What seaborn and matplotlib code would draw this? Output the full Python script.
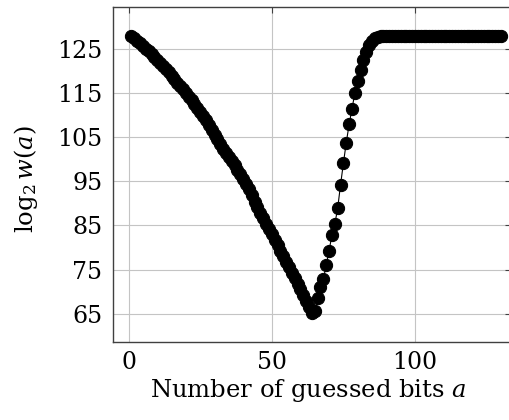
import matplotlib
matplotlib.use("Agg")
import matplotlib.pyplot as plt
import seaborn as sns
import pandas as pd

# guessed bits a = 1..130
bits = list(range(1, 131))

desc = [128.0, 127.4, 126.9, 126.3, 125.7, 125.1, 124.5, 123.8, 123.2, 122.5,
        121.8, 121.1, 120.4, 119.7, 118.9, 118.2, 117.4, 116.7, 115.9, 115.1,
        114.2, 113.4, 112.6, 111.7, 110.8, 109.9, 108.9, 107.8, 106.7, 105.6,
        104.5, 103.4, 102.4, 101.4, 100.5, 99.5, 98.6, 97.6, 96.6, 95.5,
        94.4, 93.3, 91.8, 90.4, 89.1, 87.8, 86.6, 85.4, 84.2, 83.0,
        81.8, 80.5, 79.3, 78.0, 76.8, 75.5, 74.2, 73.0, 71.7, 70.5,
        69.2, 67.9, 66.5, 65.2]
rise = [65.6, 68.5, 71.1, 72.8, 76.0, 79.3, 82.8, 85.3, 88.9, 94.2,
        99.1, 103.8, 107.9, 111.5, 115.0, 117.7, 120.2, 122.5, 124.4, 125.9,
        126.9, 127.5, 127.8]
flat = [128.0] * 43

work = desc + rise + flat

xticks = [0, 50, 100]
yticks = [65, 75, 85, 95, 105, 115, 125]

df = pd.DataFrame({"a": bits, "w": work})

sns.set_theme(style="whitegrid")
plt.rcParams["font.family"] = ["DejaVu Serif"]
plt.rcParams["mathtext.fontset"] = "dejavuserif"

fig = plt.figure(figsize=(5.09, 4.20), dpi=100)
W, H = 509, 420
left, right, top, bottom = 113.3, 511.5, 7.3, 341.7
ax = fig.add_axes([left / W, (H - bottom) / H, (right - left) / W, (bottom - top) / H])

sns.lineplot(data=df, x="a", y="w", ax=ax, color="black", linewidth=0.8,
             marker="o", markersize=8.8, markeredgecolor="black",
             markerfacecolor="black", clip_on=False)

ax.set_xlim(-5.35, 133.7)
ax.set_ylim(58.65, 134.45)
ax.set_xticks(xticks)
ax.set_yticks(yticks)
ax.grid(True, color="#c4c4c4", linewidth=0.8)
ax.set_axisbelow(True)
for s in ax.spines.values():
    s.set_color("#404040")
    s.set_linewidth(1.0)
ax.tick_params(direction="in", length=4, width=0.8, color="#404040",
               labelsize=17, labelcolor="black", top=True, right=True)
ax.tick_params(axis="y", pad=8)
ax.tick_params(axis="x", pad=7)
ax.set_facecolor("white")

ax.set_xlabel("Number of guessed bits $a$", fontsize=17.5, color="black")
ax.set_ylabel(r"$\log_2 w(a)$", fontsize=17.5, color="black")
ax.xaxis.set_label_coords(0.489, -0.105)
ax.yaxis.set_label_coords(-0.185, 0.487)

fig.savefig("out.png", dpi=100, facecolor="white")
